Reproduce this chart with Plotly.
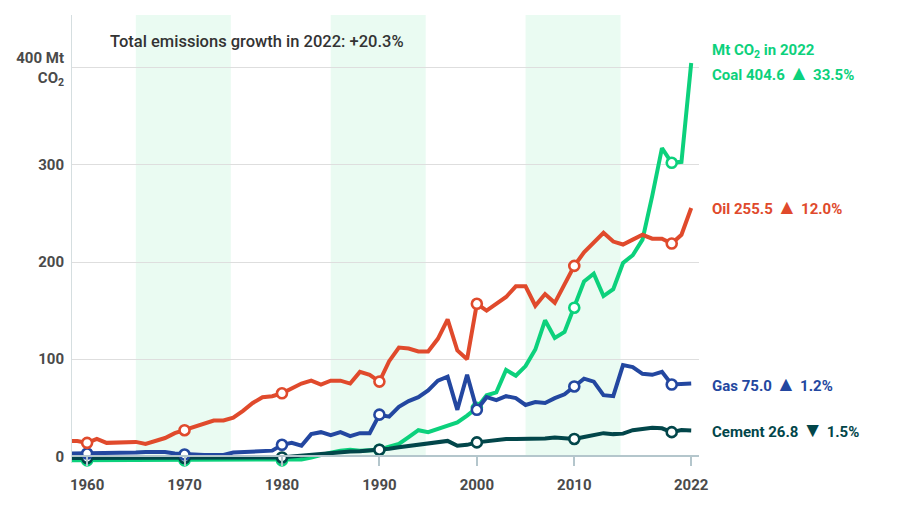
import plotly.graph_objects as go

years = list(range(1958, 2023))

coal = [-4] * 23 + [
    -4, -3, -1, 2, 4, 6, 7, 6, 6, 7,          # 1981-1990
    10, 13, 20, 27, 25, 28, 31, 35, 42, 50,   # 1991-2000
    63, 66, 89, 83, 93, 110, 140, 122, 128, 153,  # 2001-2010
    180, 188, 165, 172, 199, 207, 223, 268, 317, 302,  # 2011-2020
    303, 404.6]

oil = [16, 16, 14, 18, 14, 14, 14, 15, 13, 16, 19, 24, 27,   # 1958-1970
       31, 34, 37, 37, 40, 47, 55, 61, 62, 65,               # 1971-1980
       70, 75, 78, 74, 78, 78, 75, 87, 84, 77,               # 1981-1990
       98, 112, 111, 108, 108, 121, 141, 109, 100, 157,      # 1991-2000
       150, 157, 164, 175, 175, 155, 167, 158, 177, 196,     # 2001-2010
       210, 220, 230, 221, 218, 223, 228, 224, 224, 219,     # 2011-2020
       228, 255.5]

gas = [3, 3, 3, 3, 3, 3.5, 3.5, 4, 4.5, 4.5, 4.5, 3, 2,      # 1958-1970
       2, 1.5, 1.5, 1.5, 4, 4.5, 4.5, 4.5, 6, 12,            # 1971-1980
       14, 11, 23, 25, 22, 25, 21, 24, 24, 43,               # 1981-1990
       41, 51, 57, 61, 68, 78, 82, 48, 84, 48,               # 1991-2000
       61, 58, 62, 60, 53, 56, 55, 60, 64, 72,               # 2001-2010
       80, 77, 63, 62, 94, 92, 85, 84, 87, 74,               # 2011-2020
       74.1, 75.0]

cement = [-1.5] * 22 + [
    -1,                                                        # 1980
    0, 1, 2, 3, 3.5, 4, 5, 5.5, 6, 7,                          # 1981-1990
    8, 9.5, 11, 12.5, 13.5, 15, 16, 11, 12, 14.5,              # 1991-2000
    16, 17.5, 18, 18, 18, 18, 18.5, 19.5, 19, 18,              # 2001-2010
    20, 22, 24, 23, 23.5, 27, 28, 29.5, 29, 25,                # 2011-2020
    27.2, 26.8]

for s in (coal, oil, gas, cement):
    assert len(s) == len(years)

marker_years = [1960, 1970, 1980, 1990, 2000, 2010, 2020]
band_starts = [1965, 1985, 2005]
band_ends = [1974.75, 1994.75, 2014.75]

x_ticks = [1960, 1970, 1980, 1990, 2000, 2010, 2022]
y_ticks = [0, 100, 200, 300, 400]
y_ticktext = ["0", "100", "200", "300", "400 Mt<br>CO<sub>2</sub>"]

series = [
    ("Coal", coal, "#0CD17C", "▲", "33.5%"),
    ("Cement", cement, "#02464A", "▼", "1.5%"),
    ("Gas", gas, "#2347A0", "▲", "1.2%"),
    ("Oil", oil, "#E04A2C", "▲", "12.0%"),
]

FONT = "Roboto"
fig = go.Figure()

for name, vals, color, arrow, pct in series:
    fig.add_trace(go.Scatter(x=years, y=vals, mode="lines", name=name,
                             line=dict(color=color, width=4), hoverinfo="skip"))
    mx = [y for y in years if y in marker_years]
    my = [v for y, v in zip(years, vals) if y in marker_years]
    fig.add_trace(go.Scatter(x=mx, y=my, mode="markers", showlegend=False,
                             marker=dict(size=10, color="white",
                                         line=dict(color=color, width=2.6)),
                             cliponaxis=False, hoverinfo="skip"))

for x0, x1 in zip(band_starts, band_ends):
    fig.add_shape(type="rect", xref="x", yref="paper", x0=x0, x1=x1, y0=0.015, y1=1,
                  fillcolor="#EAFBF2", line=dict(width=0), layer="below")

ymin, ymax = -6.7, 454
xmin, xmax = 1958.45, 2022.8
zero_pos = (0 - ymin) / (ymax - ymin)

label_shift = {"Coal": -10, "Oil": 1, "Gas": 0, "Cement": 0}
LABEL_X = 1.0175
for name, vals, color, arrow, pct in series:
    fig.add_annotation(x=LABEL_X, y=vals[-1], xref="paper", yref="y", xanchor="left",
                       yanchor="middle", showarrow=False, yshift=label_shift[name],
                       text=(f"<b>{name} {vals[-1]:.1f} "
                             f"<span style='font-size:21px'>{arrow}</span> {pct}</b>"),
                       font=dict(family=FONT, size=15, color=color))
    if name == "Coal":
        fig.add_annotation(x=LABEL_X, y=vals[-1], xref="paper", yref="y", xanchor="left",
                           yanchor="middle", showarrow=False, yshift=12,
                           text="<b>Mt CO<sub>2</sub> in 2022</b>",
                           font=dict(family=FONT, size=15, color=color))

fig.add_annotation(x=0.057, y=0.94, xref="paper", yref="paper", xanchor="left",
                   yanchor="middle", showarrow=False,
                   text="Total emissions growth in 2022: +20.3%",
                   font=dict(family=FONT, size=16.5, color="#333333", weight=500))

fig.update_layout(
    width=892, height=516,
    margin=dict(l=64, r=201, t=7, b=61, autoexpand=False),
    plot_bgcolor="white", paper_bgcolor="white",
    showlegend=False,
    font=dict(family=FONT),
    xaxis=dict(range=[xmin, xmax], tickvals=x_ticks, showgrid=False, zeroline=False,
               showline=True, linecolor="#B4C6CC", linewidth=2,
               anchor="free", position=zero_pos,
               ticks="outside", ticklen=9, tickwidth=2, tickcolor="#B4C6CC",
               ticklabelstandoff=6,
               tickfont=dict(family=FONT, size=15, color="#4A4A4A", weight="bold")),
    yaxis=dict(range=[ymin, ymax], tickvals=y_ticks, ticktext=y_ticktext,
               showgrid=True, gridcolor="#DEDEDE", gridwidth=1, zeroline=False,
               showline=True, linecolor="#D5DEE0", linewidth=1,
               ticks="", ticklabelstandoff=4,
               tickfont=dict(family=FONT, size=15, color="#4A4A4A", weight="bold")),
)

fig.write_html("out.html")
